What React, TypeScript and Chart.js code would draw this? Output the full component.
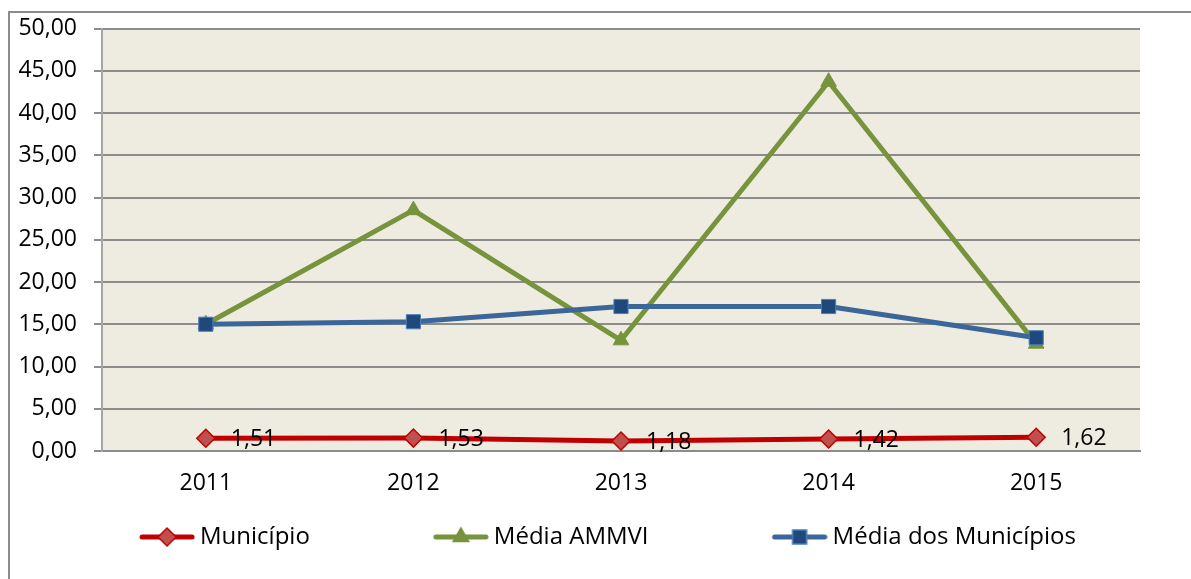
import React, { useEffect, useRef } from "react";
import { Chart, registerables } from "chart.js";

Chart.register(...registerables);

// ---- data ----
const years = ["2011", "2012", "2013", "2014", "2015"];
const municipio = [1.51, 1.53, 1.18, 1.42, 1.62];
const mediaAmmvi = [15.0, 28.5, 13.1, 43.7, 12.7];
const mediaMunicipios = [15.0, 15.3, 17.1, 17.1, 13.4];
const seriesNames = ["Município", "Média AMMVI", "Média dos Municípios"];
const yMin = 0;
const yMax = 50;
const yStep = 5;

const FONT_FAMILY = "'Open Sans', 'Noto Sans', sans-serif";
const FONT_SIZE = 23;
const LEGEND_FONT_SIZE = 24;

const fmt = (v: number) => v.toFixed(2).replace(".", ",");

type Kind = "diamond" | "triangle" | "square";

function makeSymbol(kind: Kind, line: string, fill: string, stroke: string, iw: number) {
  const c = document.createElement("canvas");
  c.width = iw;
  c.height = 26;
  const ctx = c.getContext("2d")!;
  const cy = 13;
  ctx.strokeStyle = line;
  ctx.lineWidth = 5;
  ctx.lineCap = "round";
  ctx.beginPath();
  ctx.moveTo(iw - 53, cy);
  ctx.lineTo(iw - 3, cy);
  ctx.stroke();
  const cx = iw - 28;
  ctx.beginPath();
  if (kind === "diamond") {
    const r = 9;
    ctx.moveTo(cx - r, cy);
    ctx.lineTo(cx, cy - r);
    ctx.lineTo(cx + r, cy);
    ctx.lineTo(cx, cy + r);
    ctx.closePath();
  } else if (kind === "triangle") {
    const r = 9;
    for (let k = 0; k < 3; k++) {
      const a = (k * 2 * Math.PI) / 3;
      const px = cx + Math.sin(a) * r;
      const py = cy - Math.cos(a) * r;
      if (k === 0) ctx.moveTo(px, py);
      else ctx.lineTo(px, py);
    }
    ctx.closePath();
  } else {
    const s = 7;
    ctx.rect(cx - s, cy - s, 2 * s, 2 * s);
  }
  ctx.fillStyle = fill;
  ctx.fill();
  ctx.lineWidth = 1.5;
  ctx.strokeStyle = stroke;
  ctx.stroke();
  return c;
}

const plotBackground = {
  id: "plotBackground",
  beforeDraw(chart: any) {
    const { ctx, chartArea } = chart;
    if (!chartArea) return;
    ctx.save();
    ctx.fillStyle = "#EEECE1";
    ctx.fillRect(chartArea.left, chartArea.top, chartArea.right - chartArea.left, chartArea.bottom - chartArea.top);
    ctx.restore();
  },
};

const valueLabels = {
  id: "valueLabels",
  afterDatasetsDraw(chart: any) {
    const { ctx } = chart;
    const meta = chart.getDatasetMeta(0);
    ctx.save();
    ctx.font = `${FONT_SIZE}px ${FONT_FAMILY}`;
    ctx.fillStyle = "#000";
    ctx.textAlign = "left";
    ctx.textBaseline = "middle";
    meta.data.forEach((pt: any, i: number) => {
      ctx.fillText(fmt(municipio[i]), pt.x + 25, pt.y + 1);
    });
    ctx.restore();
  },
};

const SHIFT = 28; // canvas starts left of the window edge
const CANVAS_W = 1191 + SHIFT;
const CANVAS_H = 579;

export default function App() {
  const ref = useRef<HTMLCanvasElement>(null);

  useEffect(() => {
    const canvas = ref.current!;
    const PAD = 20;
    const B = 152;
    const IW = B + 14;
    const symbols = [
      makeSymbol("diamond", "#C00000", "#C0504D", "#C00000", IW),
      makeSymbol("triangle", "#77933C", "#77933C", "#77933C", IW),
      makeSymbol("square", "#3A6699", "#1F497D", "#4A7EBB", IW),
    ];
    const font = { family: FONT_FAMILY, size: FONT_SIZE };

    const chart = new Chart(canvas, {
      type: "line",
      data: {
        labels: years,
        datasets: [
          {
            label: seriesNames[0],
            data: municipio,
            borderColor: "#C00000",
            backgroundColor: "#C0504D",
            borderWidth: 5,
            pointStyle: "rectRot",
            pointRadius: 9,
            pointBackgroundColor: "#C0504D",
            pointBorderColor: "#C00000",
            pointBorderWidth: 1.5,
            order: 0,
          },
          {
            label: seriesNames[1],
            data: mediaAmmvi,
            borderColor: "#77933C",
            backgroundColor: "#77933C",
            borderWidth: 5,
            pointStyle: "triangle",
            pointRadius: 9,
            pointBackgroundColor: "#77933C",
            pointBorderColor: "#77933C",
            pointBorderWidth: 1,
            order: 2,
          },
          {
            label: seriesNames[2],
            data: mediaMunicipios,
            borderColor: "#3A6699",
            backgroundColor: "#1F497D",
            borderWidth: 5,
            pointStyle: "rect",
            pointRadius: 10,
            pointBackgroundColor: "#1F497D",
            pointBorderColor: "#4A7EBB",
            pointBorderWidth: 1,
            order: 1,
          },
        ],
      },
      options: {
        responsive: false,
        animation: false,
        elements: { line: { tension: 0, borderJoinStyle: "round", borderCapStyle: "round" } },
        layout: { padding: { left: 0, right: 51, top: 27, bottom: 20 } },
        plugins: {
          legend: {
            position: "bottom",
            onClick: () => {},
            labels: {
              usePointStyle: true,
              pointStyleWidth: B,
              padding: PAD,
              color: "#000",
              font: { family: FONT_FAMILY, size: LEGEND_FONT_SIZE },
              generateLabels: () =>
                seriesNames.map((t, i) => ({
                  text: t,
                  pointStyle: symbols[i] as any,
                  datasetIndex: i,
                  fillStyle: "rgba(0,0,0,0)",
                  strokeStyle: "rgba(0,0,0,0)",
                  lineWidth: 0,
                  hidden: false,
                  fontColor: "#000",
                })),
            },
          },
          tooltip: { enabled: false },
        },
        scales: {
          x: {
            offset: true,
            grid: { display: false, drawTicks: false },
            border: { display: true, color: "#8c8c8c", width: 2 },
            ticks: { padding: 18.5, color: "#000", font },
            afterFit: (s: any) => {
              s.height = 54;
            },
          },
          y: {
            min: yMin,
            max: yMax,
            ticks: {
              stepSize: yStep,
              padding: 17,
              color: "#000",
              font: { family: FONT_FAMILY, size: FONT_SIZE, lineHeight: 1 },
              callback: (v: any) => fmt(Number(v)),
            },
            grid: { color: "#8c8c8c", lineWidth: 2, drawTicks: true, tickLength: 8, tickColor: "#8c8c8c" },
            border: { display: true, color: "#a6a6a6", width: 2 },
            afterFit: (s: any) => {
              s.width = 102 + SHIFT;
            },
          },
        },
      },
      plugins: [plotBackground, valueLabels],
    } as any);

    return () => chart.destroy();
  }, []);

  return (
    <div
      style={{
        position: "fixed",
        left: 0,
        top: 0,
        width: 1191,
        height: 579,
        overflow: "hidden",
        background: "#fff",
      }}
    >
      <div
        style={{
          position: "absolute",
          left: 8,
          top: 11,
          width: 1400,
          height: 800,
          borderTop: "2px solid #8c8c8c",
          borderLeft: "2px solid #8c8c8c",
        }}
      />
      <canvas
        ref={ref}
        width={CANVAS_W}
        height={CANVAS_H}
        style={{ position: "absolute", left: -SHIFT, top: 0, width: CANVAS_W, height: CANVAS_H }}
      />
    </div>
  );
}
